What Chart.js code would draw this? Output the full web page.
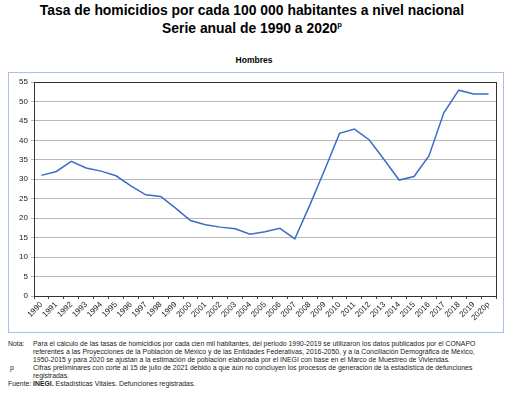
<!DOCTYPE html>
<html>
<head>
<meta charset="utf-8">
<script src="https://cdn.jsdelivr.net/npm/chart.js@4.4.0/dist/chart.umd.min.js"></script>
<style>
  body { margin: 0; background: #fff; font-family: "Liberation Sans", Arial, sans-serif; color: #000; }
  #page { position: relative; width: 512px; height: 393px; overflow: hidden; }
  .t1 { position: absolute; left: 0; width: 504px; text-align: center; font-weight: bold; font-size: 13.9px; }
  .sub { position: absolute; top: 55px; left: 0; width: 508px; text-align: center; font-weight: bold; font-size: 8.5px; }
  #box { position: absolute; left: 8px; top: 72px; width: 494px; height: 259px; border: 1px solid #a9c0ea; }
  #notes { position: absolute; left: 8px; top: 340px; width: 486px; font-size: 6.9px; line-height: 8px; color: #222; }
  #notes .row { display: flex; }
  #notes .lbl { width: 25px; flex: none; }
  sup { font-size: 7.5px; }
</style>
</head>
<body>
<div id="page">
  <div class="t1" style="top:2px">Tasa de homicidios por cada 100 000 habitantes a nivel nacional</div>
  <div class="t1" style="top:20px">Serie anual de 1990 a 2020<sup>p</sup></div>
  <div class="sub">Hombres</div>
  <div id="box"><canvas id="chart" width="494" height="259"></canvas></div>
  <div id="notes">
    <div class="row"><div class="lbl">Nota:</div><div>Para el cálculo de las tasas de homicidios por cada cien mil habitantes, del periodo 1990-2019 se utilizaron los datos publicados por el CONAPO referentes a las Proyecciones de la Población de México y de las Entidades Federativas, 2016-2050, y a la Conciliación Demográfica de México, 1950-2015 y para 2020 se ajustan a la estimación de población elaborada por el INEGI con base en el Marco de Muestreo de Viviendas.</div></div>
    <div class="row"><div class="lbl">&nbsp;p</div><div>Cifras preliminares con corte al 15 de julio de 2021 debido a que aún no concluyen los procesos de generación de la estadística de defunciones registradas.</div></div>
    <div class="row"><div class="lbl">Fuente:</div><div><b>INEGI.</b> Estadísticas Vitales. Defunciones registradas.</div></div>
  </div>
</div>
<script>
var years = ['1990','1991','1992','1993','1994','1995','1996','1997','1998','1999','2000',
  '2001','2002','2003','2004','2005','2006','2007','2008','2009','2010',
  '2011','2012','2013','2014','2015','2016','2017','2018','2019','2020p'];
var hombres = [31.0, 32.0, 34.6, 32.9, 32.1, 30.9, 28.3, 26.0, 25.6, 22.6, 19.4,
  18.3, 17.7, 17.3, 15.9, 16.5, 17.4, 14.7, 23.3, 32.4, 41.8,
  42.9, 40.1, 35.0, 29.8, 30.7, 36.0, 47.1, 52.9, 51.9, 51.9];
var yTicks = [0, 5, 10, 15, 20, 25, 30, 35, 40, 45, 50, 55];

// borde completo del área de trazado
var plotBorder = {
  id: 'plotBorder',
  afterDatasetsDraw: function (chart) {
    var a = chart.chartArea, c = chart.ctx;
    c.save();
    c.strokeStyle = '#333';
    c.lineWidth = 1;
    c.strokeRect(Math.round(a.left) + 0.5, Math.round(a.top) + 0.5, Math.round(a.right - a.left), Math.round(a.bottom - a.top));
    c.restore();
  }
};

var ctx = document.getElementById('chart').getContext('2d');
var myChart = new Chart(ctx, {
  type: 'line',
  data: {
    labels: years,
    datasets: [{
      label: 'Hombres',
      data: hombres,
      borderColor: '#3a6cc8',
      borderWidth: 1.5,
      pointRadius: 0,
      tension: 0,
      fill: false
    }]
  },
  options: {
    responsive: false,
    animation: false,
    layout: { padding: { left: 0, right: 7, top: 9, bottom: 0 } },
    scales: {
      x: {
        offset: true,
        grid: { display: true, drawOnChartArea: false, drawTicks: true, tickLength: 3, offset: true, color: '#444' },
        border: { display: true, color: '#333' },
        ticks: { autoSkip: false, maxRotation: 45, minRotation: 45, padding: 1, color: '#222',
          font: { family: 'Liberation Sans', size: 8 } },
        afterFit: function (s) { s.height = 36; }
      },
      y: {
        min: 0,
        max: 55,
        afterBuildTicks: function (s) { s.ticks = yTicks.map(function (v) { return { value: v }; }); },
        grid: { color: '#b8b8b8', tickLength: 3, lineWidth: 1 },
        border: { display: true, color: '#333' },
        ticks: { padding: 3, color: '#222', font: { family: 'Liberation Sans', size: 8 } },
        afterFit: function (s) { s.width = 25; }
      }
    },
    plugins: {
      legend: { display: false },
      tooltip: { enabled: false }
    }
  },
  plugins: [plotBorder]
});
</script>
</body>
</html>
